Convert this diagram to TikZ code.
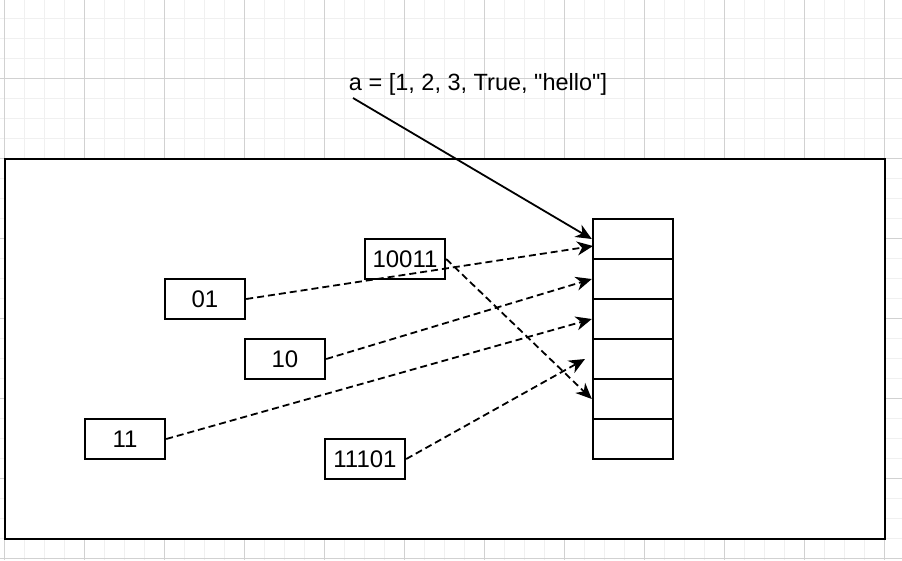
\documentclass[tikz,border=0pt]{standalone}
\usepackage{fontspec}
\setmainfont{Liberation Sans}
\usetikzlibrary{arrows.meta}

\begin{document}
\begin{tikzpicture}[x=1pt,y=-1pt,
    minorgrid/.style={draw=black!6,line width=1pt},
    majorgrid/.style={draw=black!18,line width=1pt},
    bitbox/.style={draw,line width=2.4pt,minimum width=80pt,minimum height=40pt,inner sep=0pt,font=\fontsize{24}{28}\selectfont},
    cellbox/.style={draw,line width=2.4pt,minimum width=80pt,minimum height=40pt,inner sep=0pt},
    ptr/.style={-{Stealth[length=16pt,width=14pt,inset=5pt]},line width=1.8pt},
    ptrdash/.style={ptr,dash pattern=on 7pt off 4pt}]
    \useasboundingbox (0,0) rectangle (902,560);

    % background grid
    \foreach \x in {4,24,...,884} \draw[minorgrid] (\x,0)--(\x,560);
    \foreach \y in {18,38,...,558} \draw[minorgrid] (0,\y)--(902,\y);
    \foreach \x in {4,84,...,884} \draw[majorgrid] (\x,0)--(\x,560);
    \foreach \y in {78,158,...,558} \draw[majorgrid] (0,\y)--(902,\y);

    \draw [line width=2.4pt,fill=white] (5,159) rectangle (885,539);

    % the list cells
    \foreach \i in {1,...,6} \node[cellbox] (c\i) at (633,199+40*\i) {};

    \node[anchor=base,font=\fontsize{23.5}{28}\selectfont] (code) at (478,90) {a = [1, 2, 3, True, \textquotedbl hello\textquotedbl]};
    \node[bitbox] (b10011) at (405,259) {10011};
    \node[bitbox] (b01) at (205,299) {01};
    \node[bitbox] (b10) at (285,359) {10};
    \node[bitbox] (b11) at (125,439) {11};
    \node[bitbox] (b11101) at (365,459) {11101};

    \coordinate (from) at (353,98);
    \coordinate (t01) at (593,246);
    \coordinate (t4) at (585,359);

    \draw [ptr] (from)--(c1.west);
    \draw [ptrdash] (b01.east)--(t01);
    \draw [ptrdash] (b10.east)--(c2.west);
    \draw [ptrdash] (b11.east)--(c3.west);
    \draw [ptrdash] (b11101.east)--(t4);
    \draw [ptrdash] (b10011.east)--(c5.west);
\end{tikzpicture}
\end{document}
